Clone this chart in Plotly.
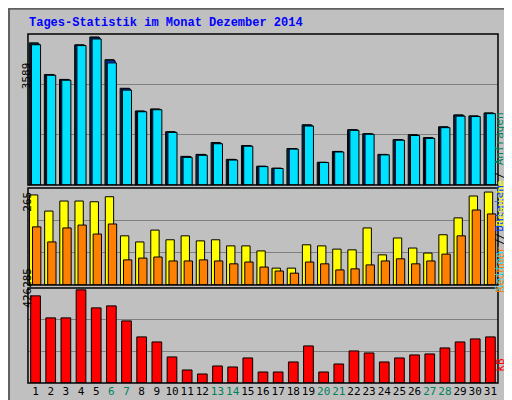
import plotly.graph_objects as go

days = list(range(1, 32))
weekend = [6, 7, 13, 14, 20, 21, 27, 28]
anfragen = [3446,2680,2560,3398,3589,3039,2345,1795,1843,1292,694,742,1029,622,957,455,407,885,1460,550,814,1340,1244,742,1101,1220,1149,1412,1699,1675,1747]
dateien = [3420,2670,2550,3390,3570,3010,2330,1785,1835,1285,690,738,1015,615,950,452,405,880,1450,548,810,1335,1238,738,1095,1212,1140,1405,1690,1668,1740]
seiten = [3400,2660,2540,3380,3540,2960,2300,1775,1825,1275,670,720,1000,605,940,445,400,870,1430,545,800,1325,1230,730,1085,1200,1130,1390,1670,1660,1730]
besuche = [251,206,234,234,232,246,137,120,153,126,137,123,126,109,109,95,47,47,112,109,100,98,159,84,131,103,89,140,187,248,259]
rechner = [162,120,159,167,142,170,70,75,78,67,67,70,67,59,64,50,39,33,64,59,42,45,56,67,73,59,67,86,137,209,198]
kb = [398800,298000,298000,426285,343800,352900,284200,210900,187900,119200,59600,41300,77900,73300,114600,50400,50400,96300,169600,50400,87100,146700,137500,96300,114600,128400,132900,160400,187900,201700,210900]
max_hits, max_visits, max_kb = 3589, 265, 426285

fig = go.Figure()
def bar(y, color, offset, width, ax):
    fig.add_trace(go.Bar(x=days, y=y, marker=dict(color=color, line=dict(color="black", width=1)),
                         offset=offset, width=width, xaxis="x", yaxis=ax, showlegend=False))
bar(anfragen, "#00805C", -0.42, 0.6, "y")
bar(dateien, "#0040FF", -0.35, 0.6, "y")
bar(seiten, "#00E0FF", -0.27, 0.6, "y")
bar(besuche, "#FFFF00", -0.4, 0.55, "y2")
bar(rechner, "#FF8000", -0.2, 0.55, "y2")
bar(kb, "#FF0000", -0.32, 0.64, "y3")

ticktext = [f'<span style="color:{"#00805C" if d in weekend else "black"}">{d}</span>' for d in days]
xd = [0.039, 0.957]
common = dict(showticklabels=False, showgrid=True, gridcolor="#808080", gridwidth=1,
              zeroline=False, showline=False, fixedrange=True)
fig.update_layout(
    width=512, height=400, margin=dict(l=0, r=0, t=0, b=0),
    paper_bgcolor="#C0C0C0", plot_bgcolor="#C0C0C0", barmode="overlay",
    font=dict(family="DejaVu Sans Mono", size=11, color="black"),
    xaxis=dict(domain=xd, range=[0.5, 31.5], tickvals=days, ticktext=ticktext, anchor="y3",
               showgrid=False, ticks="", tickangle=0, tickfont=dict(size=11), fixedrange=True),
    yaxis=dict(domain=[0.5575, 0.935], range=[0, max_hits * 1.02], dtick=max_hits * 1.02 / 3, **common),
    yaxis2=dict(domain=[0.3075, 0.55], range=[0, max_visits * 1.02], dtick=max_visits * 1.02 / 3, **common),
    yaxis3=dict(domain=[0.0625, 0.3], range=[0, max_kb * 1.02], dtick=max_kb * 1.02 / 3, **common),
)
shapes = [dict(type="rect", xref="paper", yref="paper", x0=0.002, x1=0.998, y0=0.002, y1=0.998,
               line=dict(color="#606060", width=2))]
for d in ([0.5575, 0.935], [0.3075, 0.55], [0.0625, 0.3]):
    shapes.append(dict(type="rect", xref="paper", yref="paper", x0=xd[0], x1=xd[1], y0=d[0], y1=d[1],
                       line=dict(color="black", width=1.5)))
fig.update_layout(shapes=shapes)
ann = [
    dict(text="<b>Tages-Statistik im Monat Dezember 2014</b>", x=0.037, y=0.985, xanchor="left", yanchor="top",
         font=dict(family="Liberation Mono", size=12, color="#0000FF")),
    dict(text=str(max_hits), x=0.02, y=0.87, textangle=-90),
    dict(text=str(max_visits), x=0.02, y=0.515, textangle=-90),
    dict(text=str(max_kb), x=0.02, y=0.245, textangle=-90),
    dict(text='<span style="color:#00E0FF">Seiten</span> / <span style="color:#0040FF">Dateien</span> / <span style="color:#00805C">Anfragen</span>',
         x=0.977, y=0.745, textangle=-90),
    dict(text='<span style="color:#FF8000">Rechner</span> / <span style="color:#FFFF00">Besuche</span>',
         x=0.977, y=0.43, textangle=-90),
    dict(text='<span style="color:#FF0000">kB</span>', x=0.977, y=0.085, textangle=-90),
]
for a in ann:
    a.setdefault("xref", "paper"); a.setdefault("yref", "paper"); a["showarrow"] = False
fig.update_layout(annotations=ann)
fig.write_html("out.html")
